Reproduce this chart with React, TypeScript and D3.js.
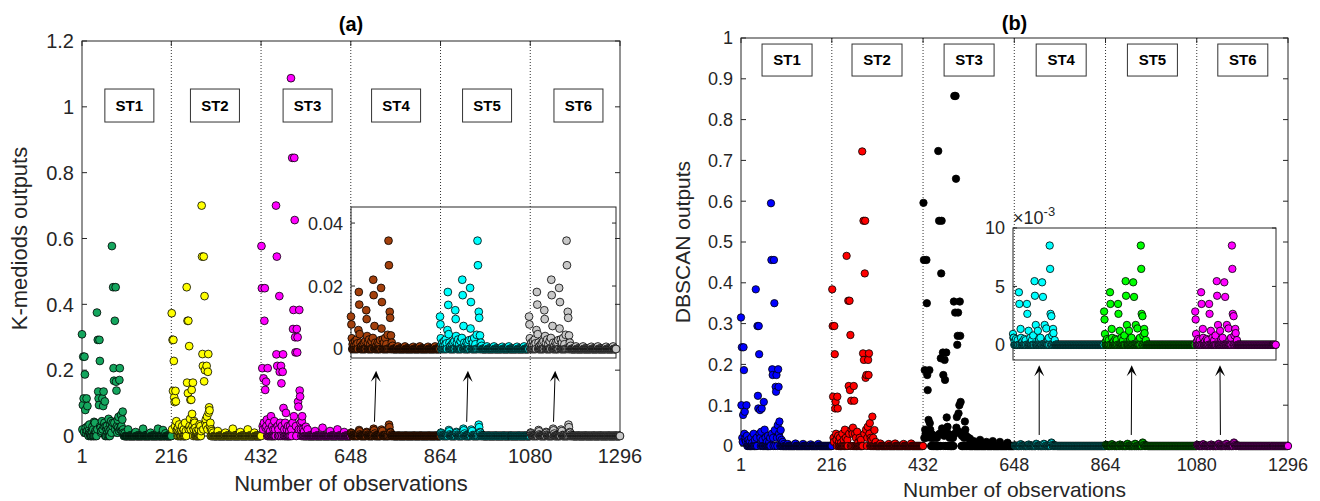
import React from "react";
import * as d3 from "d3";

type Pt = [number, number];
type Obs = { obs: number; v: number };

// ---------- shared categories ----------
const N_OBS = 1296;
const STATION_LEN = 216;
const X_TICKS = [1, 216, 432, 648, 864, 1080, 1296];
const DIVIDERS = [216, 432, 648, 864, 1080];
const STATIONS = ["ST1", "ST2", "ST3", "ST4", "ST5", "ST6"];

const A_Y_TICKS = [0, 0.2, 0.4, 0.6, 0.8, 1, 1.2];
const B_Y_TICKS = [0, 0.1, 0.2, 0.3, 0.4, 0.5, 0.6, 0.7, 0.8, 0.9, 1];
const A_INSET_TICKS = [0, 0.02, 0.04];
const B_INSET_TICKS = [0, 5, 10];
const B_INSET_EXP = 1e-3;

const A_COLORS = ["#14a65e", "#ffff00", "#ff00ff", "#a3400c", "#00ffff", "#c8c8c8"];
const B_COLORS = ["#0000ff", "#ff0000", "#000000", "#00ffff", "#00ff00", "#ff00ff"];

// station label box centres (observation number) and arrows [obs0, v0, obs1, v1]
const A_BOX_OBS = [115, 321, 544, 757, 976, 1196];
const B_BOX_OBS = [110, 323, 541, 759, 975, 1189];
const A_ARROWS = [[705, 0.043, 709, 0.198], [927, 0.043, 930, 0.198], [1136, 0.043, 1140, 0.198]];
const B_ARROWS = [[707, 0.027, 707, 0.198], [925, 0.027, 926, 0.198], [1136, 0.027, 1135, 0.198]];

// ---------- panel (a): K-mediods outputs, [offset within station, value]; unlisted offsets read 0 ----------
const A_ST1: Pt[] = [
  [1, 0.309], [2, 0.02], [3, 0.094], [4, 0.241], [5, 0.114], [6, 0.012], [7, 0.241], [8, 0.187], [9, 0.079], [10, 0.025],
  [11, 0.008], [12, 0.114], [13, 0.015], [14, 0.091], [15, 0.03], [16, 0.005], [18, 0.018], [19, 0.035], [20, 0.01], [22, 0.006],
  [25, 0.012], [26, 0.028], [28, 0.02], [30, 0.043], [32, 0.04], [33, 0.015], [35, 0.01], [37, 0.375], [38, 0.02], [39, 0.292],
  [40, 0.135], [41, 0.114], [42, 0.094], [43, 0.292], [44, 0.228], [45, 0.03], [46, 0.025], [47, 0.01], [48, 0.015], [49, 0.045],
  [50, 0.114], [51, 0.02], [52, 0.091], [53, 0.135], [54, 0.03], [55, 0.04], [56, 0.105], [58, 0.03], [60, 0.02], [61, 0.03],
  [62, 0.01], [64, 0.02], [65, 0.052], [67, 0.015], [69, 0.035], [70, 0.02], [71, 0.045], [72, 0.01], [73, 0.577], [74, 0.03],
  [75, 0.04], [76, 0.452], [77, 0.206], [78, 0.168], [79, 0.04], [80, 0.35], [81, 0.02], [82, 0.452], [83, 0.165], [84, 0.138],
  [85, 0.03], [86, 0.01], [87, 0.049], [88, 0.025], [89, 0.058], [90, 0.015], [91, 0.17], [92, 0.206], [93, 0.02], [94, 0.025],
  [95, 0.064], [96, 0.03], [97, 0.015], [98, 0.05], [99, 0.074], [100, 0.02], [101, 0.01], [104, 0.008], [112, 0.02], [130, 0.012],
  [148, 0.022], [166, 0.01], [184, 0.022], [196, 0.018], [202, 0.008],
];
const A_ST2: Pt[] = [
  [1, 0.373], [2, 0.02], [3, 0.292], [4, 0.137], [5, 0.292], [6, 0.228], [7, 0.117], [8, 0.103], [9, 0.03], [10, 0.137],
  [11, 0.105], [12, 0.045], [13, 0.015], [14, 0.02], [16, 0.025], [18, 0.012], [19, 0.035], [21, 0.008], [24, 0.015], [26, 0.03],
  [27, 0.01], [30, 0.02], [33, 0.04], [35, 0.015], [37, 0.452], [38, 0.162], [39, 0.35], [40, 0.13], [41, 0.35], [42, 0.02],
  [43, 0.273], [44, 0.03], [45, 0.052], [46, 0.11], [47, 0.02], [48, 0.11], [49, 0.14], [50, 0.067], [51, 0.03], [52, 0.162],
  [54, 0.02], [55, 0.045], [56, 0.04], [58, 0.025], [60, 0.015], [63, 0.01], [66, 0.02], [68, 0.035], [70, 0.03], [72, 0.015],
  [73, 0.7], [74, 0.545], [75, 0.249], [76, 0.213], [77, 0.02], [78, 0.545], [79, 0.166], [80, 0.425], [81, 0.2], [82, 0.04],
  [83, 0.05], [84, 0.03], [85, 0.213], [86, 0.059], [87, 0.02], [88, 0.195], [89, 0.249], [90, 0.071], [91, 0.087], [92, 0.078],
  [93, 0.03], [94, 0.04], [96, 0.02], [98, 0.015], [101, 0.01], [112, 0.015], [130, 0.01], [148, 0.022], [166, 0.012], [184, 0.02],
  [200, 0.01],
];
const A_ST3: Pt[] = [
  [1, 0.577], [2, 0.449], [3, 0.206], [4, 0.03], [5, 0.02], [6, 0.175], [7, 0.04], [8, 0.35], [9, 0.449], [10, 0.14],
  [11, 0.025], [12, 0.165], [13, 0.03], [14, 0.05], [16, 0.206], [18, 0.02], [20, 0.04], [22, 0.015], [24, 0.06], [27, 0.03],
  [30, 0.02], [32, 0.045], [34, 0.02], [36, 0.7], [37, 0.248], [38, 0.545], [39, 0.213], [40, 0.03], [42, 0.02], [44, 0.425],
  [45, 0.195], [46, 0.04], [48, 0.213], [49, 0.16], [50, 0.03], [52, 0.195], [53, 0.248], [54, 0.085], [56, 0.02], [58, 0.04],
  [60, 0.07], [62, 0.02], [65, 0.03], [68, 0.015], [70, 0.03], [72, 1.087], [73, 0.02], [75, 0.845], [76, 0.04], [77, 0.325],
  [78, 0.383], [79, 0.06], [80, 0.845], [81, 0.656], [82, 0.3], [83, 0.254], [84, 0.03], [86, 0.325], [87, 0.254], [88, 0.3],
  [89, 0.104], [90, 0.089], [91, 0.02], [92, 0.383], [93, 0.138], [94, 0.12], [95, 0.04], [96, 0.02], [98, 0.045], [99, 0.06],
  [101, 0.02], [104, 0.015], [108, 0.028], [112, 0.02], [130, 0.015], [148, 0.025], [166, 0.015], [184, 0.02], [200, 0.012],
];
const OFF_A456 = [
  1, 2, 3, 5, 7, 9, 11, 13, 15, 17, 19, 20, 21, 22, 24, 27, 30, 33, 36, 38, 39, 40, 42, 45, 48, 51, 54, 55, 56, 58,
  60, 63, 66, 70, 72, 74, 75, 76, 78, 81, 84, 87, 90, 92, 93, 95, 96, 98, 100, 102, 115, 132, 152, 168, 188, 205,
];
const A_ST4 = [
  0.0103, 0.0078, 0.0034, 0.0015, 0.002, 0.001, 0.0025, 0.0012, 0.003, 0.0018, 0.006, 0.0181, 0.0141, 0.0047, 0.002,
  0.001, 0.0015, 0.002, 0.0025, 0.0123, 0.0095, 0.0041, 0.002, 0.003, 0.0015, 0.0025, 0.0035, 0.022, 0.0171, 0.0073,
  0.002, 0.001, 0.002, 0.0018, 0.0028, 0.0194, 0.0065, 0.0149, 0.003, 0.002, 0.0035, 0.0015, 0.0045, 0.0344, 0.0266,
  0.0118, 0.0099, 0.0043, 0.002, 0.001, 0.0008, 0.0008, 0.0007, 0.0008, 0.0007, 0.0008,
];
const A_ST5 = [
  0.0103, 0.0078, 0.0034, 0.0015, 0.002, 0.001, 0.0025, 0.0012, 0.003, 0.0018, 0.006, 0.0181, 0.014, 0.0047, 0.002,
  0.001, 0.0015, 0.002, 0.0025, 0.0123, 0.0095, 0.0041, 0.002, 0.003, 0.0015, 0.0025, 0.0035, 0.022, 0.0171, 0.0073,
  0.002, 0.001, 0.002, 0.0018, 0.0028, 0.0194, 0.0065, 0.0149, 0.003, 0.002, 0.0035, 0.0015, 0.0045, 0.0344, 0.0266,
  0.0118, 0.0099, 0.0043, 0.002, 0.001, 0.0008, 0.0008, 0.0007, 0.0008, 0.0007, 0.0008,
];
const A_ST6 = [
  0.0103, 0.0078, 0.0034, 0.0015, 0.002, 0.001, 0.0025, 0.0012, 0.003, 0.0018, 0.006, 0.0181, 0.0141, 0.0047, 0.002,
  0.001, 0.0015, 0.002, 0.0025, 0.0123, 0.0095, 0.0041, 0.002, 0.003, 0.0015, 0.0025, 0.0035, 0.022, 0.0171, 0.0073,
  0.002, 0.001, 0.002, 0.0018, 0.0028, 0.0194, 0.0065, 0.0149, 0.003, 0.002, 0.0035, 0.0015, 0.0045, 0.0344, 0.0266,
  0.0118, 0.0099, 0.0043, 0.002, 0.001, 0.0008, 0.0008, 0.0007, 0.0008, 0.0007, 0.0008,
];

// ---------- panel (b): DBSCAN outputs ----------
const B_ST1: Pt[] = [
  [1, 0.315], [2, 0.1], [3, 0.242], [4, 0.02], [5, 0.01], [6, 0.076], [7, 0.242], [8, 0.186], [9, 0.03], [10, 0.084],
  [11, 0.015], [12, 0.02], [13, 0.01], [14, 0.1], [15, 0.025], [17, 0.008], [19, 0.015], [22, 0.01], [25, 0.02], [28, 0.008],
  [31, 0.03], [34, 0.015], [36, 0.384], [38, 0.02], [40, 0.294], [41, 0.123], [42, 0.092], [43, 0.294], [44, 0.225], [45, 0.03],
  [46, 0.088], [47, 0.02], [49, 0.035], [50, 0.092], [52, 0.015], [55, 0.108], [57, 0.04], [59, 0.02], [62, 0.01], [65, 0.025],
  [68, 0.01], [70, 0.02], [72, 0.595], [73, 0.456], [74, 0.03], [75, 0.188], [76, 0.174], [77, 0.02], [79, 0.456], [80, 0.35],
  [81, 0.039], [83, 0.145], [84, 0.133], [85, 0.174], [86, 0.02], [88, 0.051], [89, 0.188], [90, 0.145], [91, 0.03], [92, 0.06],
  [93, 0.02], [95, 0.039], [97, 0.015], [100, 0.01], [103, 0.005], [112, 0.005], [130, 0.006], [148, 0.005], [166, 0.004], [184, 0.005],
];
const B_ST2: Pt[] = [
  [1, 0.384], [2, 0.294], [3, 0.121], [4, 0.02], [5, 0.01], [6, 0.294], [7, 0.225], [8, 0.092], [9, 0.108], [10, 0.03],
  [11, 0.015], [13, 0.121], [14, 0.092], [15, 0.025], [17, 0.01], [19, 0.02], [22, 0.008], [25, 0.03], [28, 0.015], [31, 0.04],
  [33, 0.02], [35, 0.466], [37, 0.015], [39, 0.356], [40, 0.147], [41, 0.03], [42, 0.356], [43, 0.137], [44, 0.272], [46, 0.111],
  [47, 0.04], [49, 0.03], [50, 0.045], [52, 0.147], [53, 0.111], [55, 0.03], [57, 0.02], [60, 0.035], [63, 0.01], [66, 0.02],
  [69, 0.015], [72, 0.722], [74, 0.227], [75, 0.552], [76, 0.211], [77, 0.03], [78, 0.423], [79, 0.552], [80, 0.167], [81, 0.04],
  [82, 0.174], [84, 0.02], [85, 0.047], [86, 0.211], [87, 0.174], [88, 0.227], [89, 0.03], [90, 0.056], [92, 0.02], [94, 0.015],
  [96, 0.072], [98, 0.02], [101, 0.039], [104, 0.01], [115, 0.006], [135, 0.005], [150, 0.006], [170, 0.005], [188, 0.006],
];
const B_ST3: Pt[] = [
  [1, 0.596], [2, 0.456], [3, 0.02], [4, 0.186], [5, 0.04], [6, 0.03], [7, 0.02], [8, 0.456], [9, 0.35], [10, 0.174],
  [11, 0.137], [12, 0.03], [13, 0.064], [14, 0.025], [15, 0.186], [16, 0.056], [17, 0.04], [18, 0.02], [20, 0.03], [22, 0.02],
  [24, 0.025], [27, 0.02], [30, 0.025], [33, 0.02], [36, 0.723], [38, 0.552], [39, 0.03], [42, 0.215], [43, 0.423], [44, 0.552],
  [45, 0.043], [46, 0.03], [47, 0.229], [48, 0.174], [50, 0.025], [51, 0.211], [52, 0.162], [53, 0.04], [55, 0.229], [56, 0.07],
  [58, 0.047], [60, 0.03], [63, 0.02], [66, 0.025], [69, 0.02], [71, 0.02], [73, 0.354], [74, 0.858], [75, 0.03], [76, 0.327],
  [77, 0.858], [78, 0.655], [79, 0.045], [80, 0.071], [81, 0.248], [82, 0.27], [83, 0.327], [84, 0.08], [85, 0.035], [86, 0.1],
  [87, 0.354], [88, 0.27], [89, 0.108], [90, 0.03], [92, 0.025], [95, 0.03], [97, 0.02], [99, 0.06], [100, 0.04], [102, 0.025],
  [105, 0.02], [108, 0.02], [111, 0.018], [120, 0.012], [135, 0.015], [150, 0.01], [165, 0.012], [182, 0.01], [200, 0.008],
];
// ST4–ST6 in units of 10^-3 (as on the inset axis)
const OFF_B456 = [
  1, 2, 3, 5, 8, 12, 15, 16, 19, 20, 24, 28, 31, 34, 35, 38, 42, 46, 49, 52, 53, 55, 60, 63, 66, 70, 72, 76, 80, 84,
  86, 88, 89, 90, 92, 94, 96, 97, 100,
];
const B_ST4 = [
  0.93, 0.6, 0.6, 0.3, 0.5, 0.4, 4.5, 3.5, 1.36, 0.6, 0.3, 0.5, 0.4, 3.5, 2.65, 1.2, 0.6, 0.4, 0.8, 5.45,
  4.2, 1.7, 1.2, 0.5, 0.6, 5.35, 4.1, 1.7, 1.4, 0.5, 0.6, 8.5, 6.5, 2.65, 2.45, 0.8, 1.36, 1.0, 0.4,
];
const B_ST5 = [
  2.85, 2.17, 0.93, 0.3, 0.5, 0.4, 4.5, 3.5, 1.36, 0.6, 0.3, 0.5, 0.4, 3.5, 2.65, 1.2, 0.6, 0.4, 0.8, 5.45,
  4.2, 1.7, 1.2, 0.5, 0.6, 5.35, 4.1, 1.7, 1.4, 0.5, 0.6, 8.5, 6.5, 2.65, 2.45, 0.8, 1.36, 1.0, 0.4,
];
const B_ST6 = [
  2.85, 2.17, 0.93, 0.3, 0.5, 0.4, 4.5, 3.5, 1.36, 0.6, 0.3, 0.5, 0.4, 3.5, 2.65, 1.2, 0.6, 0.4, 0.8, 5.45,
  4.2, 1.7, 1.2, 0.5, 0.6, 5.35, 4.1, 1.7, 1.4, 0.5, 0.6, 8.5, 6.5, 2.65, 2.45, 0.8, 1.36, 1.0, 0.4,
];

// ---------- helpers ----------
const FONT = "'Liberation Sans', Arial, Helvetica, sans-serif";
const AXIS = "#262626";

const zip = (offs: number[], vals: number[], k = 1): Pt[] => offs.map((o, i) => [o, vals[i] * k]);

function buildStation(station: number, pts: Pt[]): Obs[] {
  const byOff = d3.group(pts, (p) => p[0]);
  const out: Obs[] = [];
  for (const o of d3.range(1, STATION_LEN + 1)) {
    const hits = byOff.get(o);
    if (hits) hits.forEach(([, v]) => out.push({ obs: station * STATION_LEN + o, v }));
    else out.push({ obs: station * STATION_LEN + o, v: 0 });
  }
  return out;
}

const fmt = (v: number) => String(+v.toFixed(4));

interface InsetCfg {
  left: number; right: number; top: number; bottom: number;
  xMax: number; yMin: number; yMax: number; ticks: number[];
  unit: number; fontSize: number; labelRight: number; exponent: boolean;
}
interface PanelCfg {
  left: number; right: number; top: number; bottom: number;
  yMax: number; yTicks: number[];
  tickFont: number; labelFont: number;
  xTickBase: number; xLabelBase: number; yTickRight: number; yLabelX: number;
  title: string; titleBase: number; ylabel: string;
  colors: string[]; series: Obs[][];
  boxObs: number[]; boxV: number; boxW: number; boxH: number;
  r: number; arrows: number[][]; inset: InsetCfg;
}

function Arrow({ x0, y0, x1, y1 }: { x0: number; y0: number; x1: number; y1: number }) {
  const dx = x1 - x0, dy = y1 - y0;
  const len = Math.hypot(dx, dy);
  const ux = dx / len, uy = dy / len;
  const nx = -uy, ny = ux;
  const L = 11, W = 5, N = 6;
  const p = [
    [x1, y1],
    [x1 - L * ux + W * nx, y1 - L * uy + W * ny],
    [x1 - N * ux, y1 - N * uy],
    [x1 - L * ux - W * nx, y1 - L * uy - W * ny],
  ];
  return (
    <g>
      <line x1={x0} y1={y0} x2={x1 - N * ux} y2={y1 - N * uy} stroke="#000" strokeWidth={1} />
      <path d={`M${p.map((q) => q.join(",")).join("L")}Z`} fill="#000" />
    </g>
  );
}

function Panel({ c }: { c: PanelCfg }) {
  const x = d3.scaleLinear().domain([1, N_OBS]).range([c.left, c.right]);
  const y = d3.scaleLinear().domain([0, c.yMax]).range([c.bottom, c.top]);
  const I = c.inset;
  const xi = d3.scaleLinear().domain([649, I.xMax]).range([I.left, I.right]);
  const yi = d3.scaleLinear().domain([I.yMin, I.yMax]).range([I.bottom, I.top]);
  const tl = 5;
  const cx = (c.left + c.right) / 2;
  const cy = (c.top + c.bottom) / 2;
  return (
    <g fontFamily={FONT}>
      {DIVIDERS.map((d) => (
        <line key={d} x1={x(d)} x2={x(d)} y1={c.top} y2={c.bottom} stroke="#333" strokeWidth={1} strokeDasharray="1,2" />
      ))}
      <rect x={c.left} y={c.top} width={c.right - c.left} height={c.bottom - c.top} fill="none" stroke={AXIS} strokeWidth={1} />
      {X_TICKS.map((t) => (
        <g key={"x" + t}>
          <line x1={x(t)} x2={x(t)} y1={c.bottom} y2={c.bottom - tl} stroke={AXIS} />
          <line x1={x(t)} x2={x(t)} y1={c.top} y2={c.top + tl} stroke={AXIS} />
          <text x={x(t)} y={c.xTickBase} textAnchor="middle" fontSize={c.tickFont} fill={AXIS}>{t}</text>
        </g>
      ))}
      {c.yTicks.map((t) => (
        <g key={"y" + t}>
          <line x1={c.left} x2={c.left + tl} y1={y(t)} y2={y(t)} stroke={AXIS} />
          <line x1={c.right} x2={c.right - tl} y1={y(t)} y2={y(t)} stroke={AXIS} />
          <text x={c.yTickRight} y={y(t)} dy="0.36em" textAnchor="end" fontSize={c.tickFont} fill={AXIS}>{fmt(t)}</text>
        </g>
      ))}
      <text x={cx} y={c.titleBase} textAnchor="middle" fontSize={20} fontWeight="bold" fill="#000">{c.title}</text>
      <text x={cx} y={c.xLabelBase} textAnchor="middle" fontSize={c.labelFont} fill={AXIS}>Number of observations</text>
      <text transform={`translate(${c.yLabelX},${cy}) rotate(-90)`} textAnchor="middle" fontSize={c.labelFont} fill={AXIS}>{c.ylabel}</text>

      {c.series.map((s, si) => (
        <g key={"s" + si}>
          {s.map((d, i) => (
            <circle key={i} cx={x(d.obs)} cy={y(d.v)} r={c.r} fill={c.colors[si]} stroke="#000" strokeWidth={0.8} />
          ))}
        </g>
      ))}

      {STATIONS.map((s, i) => (
        <g key={s}>
          <rect x={x(c.boxObs[i]) - c.boxW / 2} y={y(c.boxV) - c.boxH / 2} width={c.boxW} height={c.boxH} fill="#fff" stroke="#333" strokeWidth={1} />
          <text x={x(c.boxObs[i])} y={y(c.boxV)} dy="0.36em" textAnchor="middle" fontSize={15} fontWeight="bold" fill="#000">{s}</text>
        </g>
      ))}

      <rect x={I.left} y={I.top} width={I.right - I.left} height={I.bottom - I.top} fill="none" stroke={AXIS} strokeWidth={1} />
      {I.ticks.map((t) => (
        <g key={"it" + t}>
          <line x1={I.left} x2={I.left + 4} y1={yi(t)} y2={yi(t)} stroke={AXIS} />
          <line x1={I.right} x2={I.right - 4} y1={yi(t)} y2={yi(t)} stroke={AXIS} />
          <text x={I.labelRight} y={yi(t)} dy="0.36em" textAnchor="end" fontSize={I.fontSize} fill={AXIS}>{fmt(t)}</text>
        </g>
      ))}
      {I.exponent && (
        <text x={I.left} y={I.top - 4} fontSize={18} fill={AXIS}>
          ×10<tspan dy={-8} fontSize={13}>-3</tspan>
        </text>
      )}
      {c.series.slice(3).map((s, si) => (
        <g key={"is" + si}>
          {s.filter((d) => d.obs <= I.xMax).map((d, i) => (
            <circle key={i} cx={xi(d.obs)} cy={yi(d.v / I.unit)} r={c.r} fill={c.colors[si + 3]} stroke="#000" strokeWidth={0.8} />
          ))}
        </g>
      ))}

      {c.arrows.map((a, i) => (
        <Arrow key={"a" + i} x0={x(a[0])} y0={y(a[1])} x1={x(a[2])} y1={y(a[3])} />
      ))}
    </g>
  );
}

const SERIES_A = [A_ST1, A_ST2, A_ST3, zip(OFF_A456, A_ST4), zip(OFF_A456, A_ST5), zip(OFF_A456, A_ST6)].map((p, i) => buildStation(i, p));
const SERIES_B = [B_ST1, B_ST2, B_ST3, zip(OFF_B456, B_ST4, B_INSET_EXP), zip(OFF_B456, B_ST5, B_INSET_EXP), zip(OFF_B456, B_ST6, B_INSET_EXP)].map((p, i) => buildStation(i, p));

const CFG_A: PanelCfg = {
  left: 82, right: 620, top: 41, bottom: 436,
  yMax: 1.2, yTicks: A_Y_TICKS, tickFont: 20, labelFont: 22,
  xTickBase: 463, xLabelBase: 491, yTickRight: 74, yLabelX: 27,
  title: "(a)", titleBase: 31, ylabel: "K-mediods outputs",
  colors: A_COLORS, series: SERIES_A,
  boxObs: A_BOX_OBS, boxV: 1.004, boxW: 49, boxH: 33,
  r: 3.9, arrows: A_ARROWS,
  inset: { left: 351, right: 616, top: 207, bottom: 358, xMax: 1292, yMin: -0.00286, yMax: 0.0451, ticks: A_INSET_TICKS, unit: 1, fontSize: 18, labelRight: 343, exponent: false },
};
const CFG_B: PanelCfg = {
  left: 741, right: 1288, top: 38, bottom: 446,
  yMax: 1, yTicks: B_Y_TICKS, tickFont: 18, labelFont: 21,
  xTickBase: 471, xLabelBase: 497, yTickRight: 733, yLabelX: 690,
  title: "(b)", titleBase: 30, ylabel: "DBSCAN outputs",
  colors: B_COLORS, series: SERIES_B,
  boxObs: B_BOX_OBS, boxV: 0.946, boxW: 50, boxH: 32,
  r: 3.7, arrows: B_ARROWS,
  inset: { left: 1013, right: 1276, top: 228, bottom: 360, xMax: 1272.5, yMin: -1.3, yMax: 10, ticks: B_INSET_TICKS, unit: B_INSET_EXP, fontSize: 18, labelRight: 1005, exponent: true },
};

export default function App() {
  return (
    <svg width={1320} height={501} style={{ position: "absolute", left: 0, top: 0, background: "#fff" }}>
      <rect x={0} y={0} width={1320} height={501} fill="#fff" />
      <Panel c={CFG_A} />
      <Panel c={CFG_B} />
    </svg>
  );
}
